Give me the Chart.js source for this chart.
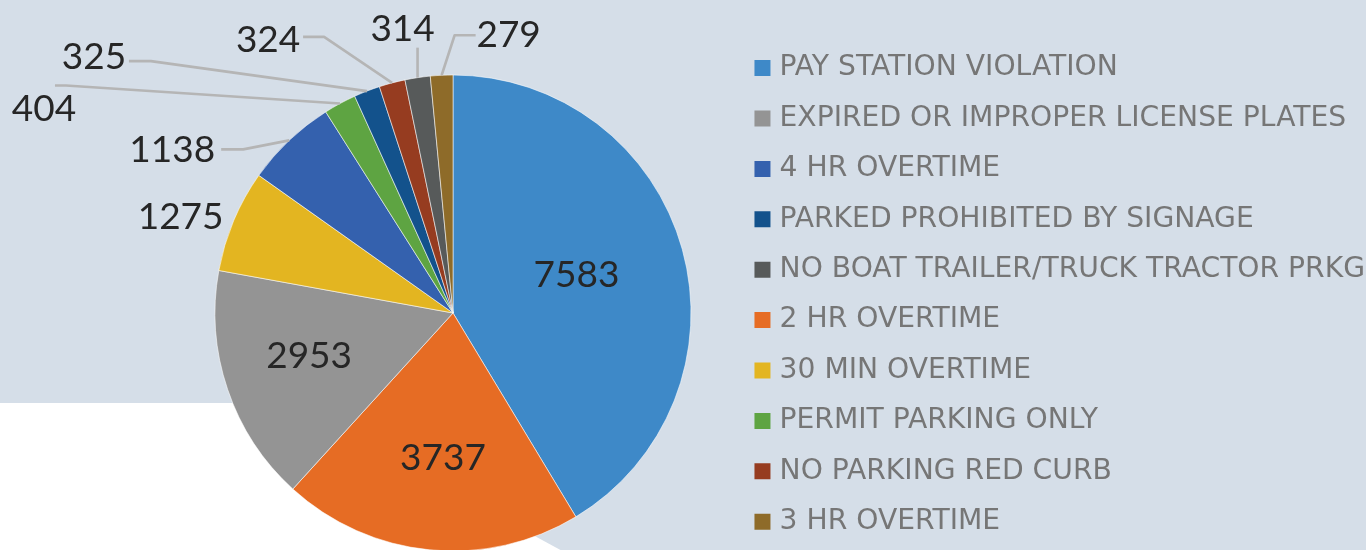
<!DOCTYPE html>
<html>
<head>
<meta charset="utf-8">
<script src="https://cdn.jsdelivr.net/npm/chart.js@4.4.1/dist/chart.umd.min.js"></script>
<style>
  html, body { margin: 0; padding: 0; width: 1366px; height: 550px; overflow: hidden; background: #d5dee8; }
  #white { position: absolute; left: 0; top: 0; width: 1366px; height: 550px; background: #ffffff;
           clip-path: polygon(0px 403px, 290px 403px, 566px 553px, 0px 553px); }
  #wrap { position: absolute; left: 0; top: 0; width: 1375px; height: 626px; }
</style>
</head>
<body>
<div id="white"></div>
<div id="wrap"><canvas id="c" width="1375" height="626"></canvas></div>
<script>
const categories = ['PAY STATION VIOLATION', '2 HR OVERTIME', 'EXPIRED OR IMPROPER LICENSE PLATES',
  '30 MIN OVERTIME', '4 HR OVERTIME', 'PERMIT PARKING ONLY', 'PARKED PROHIBITED BY SIGNAGE',
  'NO PARKING RED CURB', 'NO BOAT TRAILER/TRUCK TRACTOR PRKG', '3 HR OVERTIME'];
const citations = [7583, 3737, 2953, 1275, 1138, 404, 325, 324, 314, 279];
const legendOrder = ['PAY STATION VIOLATION', 'EXPIRED OR IMPROPER LICENSE PLATES', '4 HR OVERTIME',
  'PARKED PROHIBITED BY SIGNAGE', 'NO BOAT TRAILER/TRUCK TRACTOR PRKG', '2 HR OVERTIME',
  '30 MIN OVERTIME', 'PERMIT PARKING ONLY', 'NO PARKING RED CURB', '3 HR OVERTIME'];

const sliceColors = ['#3e89c8', '#e66c24', '#949494', '#e3b521', '#3461ae', '#5ea442',
  '#13528c', '#963c20', '#575a5a', '#8e6b29'];

// label placement per slice (inner: radial fraction + angle tweak; outer: offset from slice edge + leader points relative to text)
const labelPlacement = [
  { r: 0.545, da: -2.2 },
  { r: 0.604, da: -1.6 },
  { r: 0.63, da: 2.4 },
  { dx: -53, dy: -5 },
  { dx: -117, dy: 8, leader: [[71, 1], [49, 1]] },
  { dx: -296, dy: 4, leader: [[22, -22], [11, -22]] },
  { dx: -273, dy: -35, leader: [[57, 5], [35, 5]] },
  { dx: -124, dy: -44, leader: [[56, -2], [35, -2]] },
  { dx: -15, dy: -50, leader: [[15, 20]] },
  { dx: 67, dy: -42, leader: [[-54, 2], [-33, 2]] }
];

const PIE_CENTER_X = 453;

const shiftArea = {
  id: 'shiftArea',
  afterLayout(chart) {
    const a = chart.chartArea;
    a.left = 2 * PIE_CENTER_X - a.right;
    a.width = a.right - a.left;
  }
};

const pieLabels = {
  id: 'pieLabels',
  afterDatasetsDraw(chart) {
    const ctx = chart.ctx;
    const meta = chart.getDatasetMeta(0);
    const ds = chart.data.datasets[0];
    const fs = 37;
    ctx.save();
    ctx.font = fs + 'px Lato';
    ctx.fillStyle = '#262626';
    ctx.textAlign = 'center';
    ctx.textBaseline = 'alphabetic';
    meta.data.forEach((arc, i) => {
      const p = arc.getProps(['x', 'y', 'startAngle', 'endAngle', 'outerRadius'], true);
      const mid = (p.startAngle + p.endAngle) / 2;
      const place = labelPlacement[i];
      let tx, ty;
      const ex = p.x + Math.cos(mid) * p.outerRadius;
      const ey = p.y + Math.sin(mid) * p.outerRadius;
      if (place.r !== undefined) {
        const ang = mid + (place.da || 0) * Math.PI / 180;
        tx = p.x + Math.cos(ang) * p.outerRadius * place.r;
        ty = p.y + Math.sin(ang) * p.outerRadius * place.r;
      } else {
        tx = ex + place.dx;
        ty = ey + place.dy;
        if (place.leader) {
          ctx.save();
          ctx.strokeStyle = '#b5b5b5';
          ctx.lineWidth = 2.6;
          ctx.lineJoin = 'round';
          ctx.beginPath();
          ctx.moveTo(ex, ey);
          place.leader.forEach(pt => ctx.lineTo(tx + pt[0], ty + pt[1]));
          ctx.stroke();
          ctx.restore();
        }
      }
      ctx.fillText(String(ds.data[i]), tx, ty + fs * 0.36);
    });
    ctx.restore();
  }
};

new Chart(document.getElementById('c'), {
  type: 'pie',
  data: {
    labels: categories,
    datasets: [{
      data: citations,
      backgroundColor: sliceColors,
      borderColor: 'rgba(255,255,255,0.55)',
      borderWidth: 1,
      radius: 238
    }]
  },
  options: {
    responsive: false,
    animation: false,
    devicePixelRatio: 1,
    layout: { padding: 0 },
    plugins: {
      tooltip: { enabled: false },
      legend: {
        position: 'right',
        align: 'start',
        title: { display: true, text: ' ', font: { size: 1 }, padding: 15.3 },
        labels: {
          font: { family: 'DejaVu Sans', size: 28.2 },
          color: '#767676',
          padding: 22.2,
          usePointStyle: true,
          pointStyle: 'rect',
          boxWidth: 6,
          boxHeight: 16,
          generateLabels(chart) {
            const items = Chart.overrides.pie.plugins.legend.labels.generateLabels(chart);
            items.forEach(it => { it.lineWidth = 0; it.strokeStyle = 'rgba(0,0,0,0)'; });
            return legendOrder.map(name => items.find(it => it.text === name));
          }
        }
      }
    }
  },
  plugins: [shiftArea, pieLabels]
});
</script>
</body>
</html>
